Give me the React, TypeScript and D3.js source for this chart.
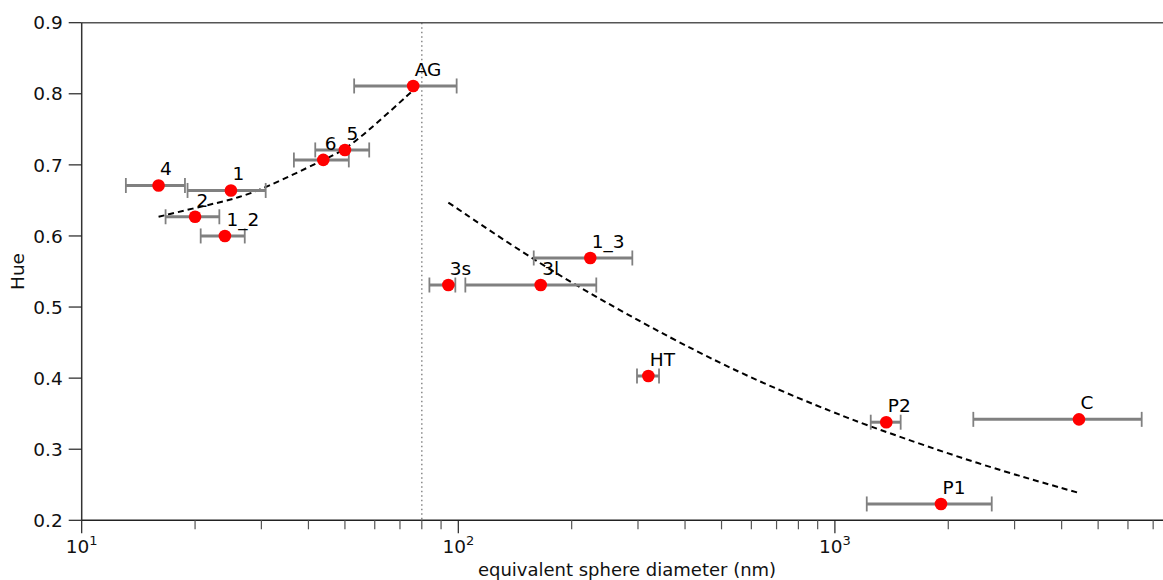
import * as d3 from 'd3';

const names = ['4', '1', '2', '1_2', '6', '5', 'AG', '3s', '3l', '1_3', 'HT', 'P2', 'C', 'P1'];
const diameters = [16.0, 24.9, 20.0, 24.0, 43.8, 50.0, 75.9, 94.1, 165.5, 224.1, 319.6, 1369, 4447, 1913];
const hues = [0.671, 0.664, 0.627, 0.6, 0.707, 0.721, 0.811, 0.531, 0.531, 0.569, 0.403, 0.338, 0.342, 0.223];
const diamLow = [13.1, 19.1, 16.7, 20.7, 36.6, 41.7, 52.9, 83.8, 104.4, 158.6, 298.2, 1245, 2331, 1215];
const diamHigh = [18.8, 30.8, 23.2, 27.1, 51.2, 58.0, 99.0, 98.2, 232.5, 289.8, 341.2, 1495, 6526, 2609];

// dashed fit curves
const fitSmallD = [16.0, 20.6, 25.3, 30.7, 43.8, 50.0, 59.5, 75.9];
const fitSmallH = [0.627, 0.641, 0.6515, 0.667, 0.707, 0.721, 0.754, 0.805];
const fitLargeD = [94.1, 178.8, 380, 632, 1011, 1240, 2428, 4412];
const fitLargeH = [0.647, 0.547, 0.451, 0.394, 0.35, 0.332, 0.278, 0.239];

const cutoff = 80;
const yTicks = [0.2, 0.3, 0.4, 0.5, 0.6, 0.7, 0.8, 0.9];
const xMajor = [10, 100, 1000];
const xMinor = [20, 30, 40, 50, 60, 70, 80, 90, 200, 300, 400, 500, 600, 700, 800, 900, 2000, 3000, 4000, 5000, 6000, 7000];

const W = 1163;
const H = 580;
const margin = { top: 22.7, left: 81.7, bottom: 59.7 };
const decade = 376.6;
const xMin = 10;
const xMax = 7500;

const font = 'DejaVu Sans, sans-serif';

export default function App() {
  const x = d3.scaleLog()
    .domain([xMin, xMax])
    .range([margin.left, margin.left + decade * Math.log10(xMax / xMin)]);
  const y = d3.scaleLinear()
    .domain([0.2, 0.9])
    .range([H - margin.bottom, margin.top]);

  const line = d3.line<[number, number]>()
    .x(d => x(d[0]))
    .y(d => y(d[1]))
    .curve(d3.curveBasis);

  const fit1 = line(fitSmallD.map((d, i) => [d, fitSmallH[i]])) || '';
  const fit2 = line(fitLargeD.map((d, i) => [d, fitLargeH[i]])) || '';

  const y0 = y(0.2);
  const y1 = y(0.9);
  const left = x(xMin);

  return (
    <>
      <style>{'body{margin:0}'}</style>
      <svg width={W} height={H} style={{ display: 'block', background: '#fff' }} fontFamily={font}>
        {/* cutoff line */}
        <line x1={x(cutoff)} x2={x(cutoff)} y1={y1} y2={y0}
          stroke="#888" strokeWidth={1.5} strokeDasharray="1.5,3" />

        {/* fits */}
        <path d={fit1} fill="none" stroke="#000" strokeWidth={2} strokeDasharray="6,4" />
        <path d={fit2} fill="none" stroke="#000" strokeWidth={2} strokeDasharray="6,4" />

        {/* error bars */}
        {names.map((n, i) => (
          <g key={'e' + n} stroke="#808080">
            <line x1={x(diamLow[i])} x2={x(diamHigh[i])} y1={y(hues[i])} y2={y(hues[i])} strokeWidth={3} />
            <line x1={x(diamLow[i])} x2={x(diamLow[i])} y1={y(hues[i]) - 7.5} y2={y(hues[i]) + 7.5} strokeWidth={1.8} />
            <line x1={x(diamHigh[i])} x2={x(diamHigh[i])} y1={y(hues[i]) - 7.5} y2={y(hues[i]) + 7.5} strokeWidth={1.8} />
          </g>
        ))}

        {/* points */}
        {names.map((n, i) => (
          <circle key={'p' + n} cx={x(diameters[i])} cy={y(hues[i])} r={6.3} fill="#f00" />
        ))}

        {/* labels */}
        {names.map((n, i) => (
          <text key={'t' + n} x={x(diameters[i]) + 1.5} y={y(hues[i]) - 10} fontSize={18.5} fill="#000">{n}</text>
        ))}

        {/* spines */}
        <line x1={left} x2={W} y1={y1} y2={y1} stroke="#555" strokeWidth={1.5} />
        <line x1={left} x2={W} y1={y0} y2={y0} stroke="#222" strokeWidth={1.5} />
        <line x1={left} x2={left} y1={y1} y2={y0} stroke="#333" strokeWidth={1.5} />

        {/* y ticks */}
        {yTicks.map(t => (
          <g key={'y' + t}>
            <line x1={left - 13} x2={left} y1={y(t)} y2={y(t)} stroke="#222" strokeWidth={1.2} />
            <text x={left - 19} y={y(t)} dy="0.36em" textAnchor="end" fontSize={18.5} fill="#111">{t.toFixed(1)}</text>
          </g>
        ))}

        {/* x ticks */}
        {xMinor.map(t => (
          <line key={'m' + t} x1={x(t)} x2={x(t)} y1={y0} y2={y0 + 9} stroke="#555" strokeWidth={1.2} />
        ))}
        {xMajor.map(t => (
          <g key={'x' + t}>
            <line x1={x(t)} x2={x(t)} y1={y0} y2={y0 + 13} stroke="#222" strokeWidth={1.2} />
            <text x={x(t)} y={y0 + 33} textAnchor="middle" fontSize={18.5} fill="#111">
              10<tspan fontSize={13} dy={-8}>{Math.round(Math.log10(t))}</tspan>
            </text>
          </g>
        ))}

        {/* axis titles */}
        <text x={627} y={H - 4} textAnchor="middle" fontSize={18} fill="#111">
          equivalent sphere diameter (nm)
        </text>
        <text transform={`translate(24,${(y0 + y1) / 2}) rotate(-90)`} textAnchor="middle" fontSize={18.5} fill="#111">Hue</text>
      </svg>
    </>
  );
}
